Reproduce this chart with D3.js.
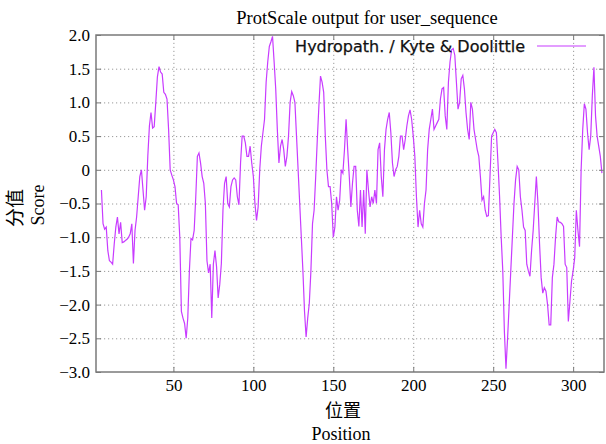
<!DOCTYPE html>
<html>
<head>
<meta charset="utf-8">
<script src="https://cdn.jsdelivr.net/npm/d3@7"></script>
<style>
  body { margin: 0; background: #fff; }
  svg { display: block; }
</style>
</head>
<body>
<div id="chart"></div>
<script>
// hydropathy scores, one per position starting at firstPos
var firstPos = 5;
var scores = [
  -0.3, -0.8, -0.88, -0.85, -1.2, -1.35, -1.37, -1.4, -1.1, -0.85,
  -0.7, -0.95, -0.78, -1.08, -1.07, -1.05, -1.03, -1.0, -0.95, -0.8,
  -1.39, -0.9, -0.7, -0.4, -0.1, 0.0, -0.3, -0.6, -0.4, 0.2,
  0.65, 0.85, 0.62, 0.64, 1.0, 1.38, 1.53, 1.45, 1.42,
  1.15, 1.12, 1.05, 0.6, 0.0, -0.08, -0.15, -0.25, -0.5, -0.52,
  -1.0, -2.1, -2.2, -2.28, -2.5, -2.2, -1.5, -1.02, -1.04, -0.9,
  -0.4, 0.2, 0.25, 0.1, -0.1, -0.2, -0.5, -1.35, -1.53, -1.4,
  -2.2, -1.4, -1.2, -1.44, -1.9, -1.7, -1.39, -0.6, -0.2, -0.1,
  -0.5, -0.55, -0.25, -0.15, -0.12, -0.15, -0.4, -0.52, 0.1, 0.5,
  0.5, 0.4, 0.2, 0.2, 0.35, 0.1, -0.1, -0.5, -0.75, -0.55,
  0.0, 0.35, 0.55, 0.75, 1.3, 1.6, 1.83, 1.9, 1.98, 1.6,
  1.2, 0.6, 0.1, 0.35, 0.45, 0.3, 0.05, 0.2, 0.5, 1.0,
  1.16, 1.1, 1.0, 0.5, 0.0, -0.5, -1.0, -1.5, -2.1, -2.48,
  -2.2, -1.98, -1.5, -0.8, -0.6, -0.1, 0.45, 0.95, 1.39, 1.3,
  1.15, 0.5, 0.0, -0.25, -0.25, -0.5, -1.0, -0.85, -0.4, -0.6,
  -0.45, 0.0, -0.05, 0.3, 0.75, 0.3, -0.1, -0.55, -0.2, 0.05,
  0.05, -0.6, -0.84, -0.3, -0.85, -0.3, -0.95, 0.0, -0.3, -0.55,
  -0.4, -0.5, -0.3, -0.5, 0.3, 0.4, -0.1, -0.4, 0.3, 0.6,
  0.75, 0.85, 0.55, 0.1, -0.1, 0.0, 0.05, 0.2, 0.5, 0.5,
  0.3, 0.45, 0.65, 0.8, 0.89, 0.75, 0.5, 0.2, -0.4, -0.85,
  -0.6, -0.8, -0.85, -0.5, -0.3, 0.3, 0.6, 0.75, 0.9, 0.6,
  0.65, 0.7, 0.75, 1.05, 1.2, 1.22, 0.8, 0.6, 1.3, 1.6,
  1.78, 1.8, 1.7, 1.3, 0.9, 1.0, 1.35, 1.4, 1.2, 0.85,
  0.6, 0.45, 1.0, 0.9, 0.6, 0.45, 0.3, 0.2, -0.1, -0.45,
  -0.4, -0.6, -0.69, -0.68, -0.1, 0.5, 0.55, 0.6, 0.55, 0.1,
  -0.4, -1.0, -1.5, -2.4, -2.95, -2.5, -2.0, -1.5, -1.0, -0.5,
  -0.15, 0.05, 0.0, -0.4, -0.6, -0.85, -0.9, -1.4, -1.5, -1.58,
  -1.2, -0.9, -0.5, -0.1, -0.5, -1.1, -1.6, -1.83, -1.75,
  -1.8, -2.0, -2.3, -2.3, -1.6, -1.4, -1.0, -0.7, -0.77, -0.78,
  -0.8, -0.84, -1.4, -1.45, -2.25, -1.95, -1.65, -1.5, -1.3, -0.6,
  -0.9, -1.14, 0.0, 0.6, 0.98, 0.9, 0.55, 0.3, 0.5, 1.1,
  1.52, 0.8, 0.5, 0.35, 0.2, -0.05
];

var xTicks = [50, 100, 150, 200, 250, 300];
var yTicks = [2.0, 1.5, 1.0, 0.5, 0, -0.5, -1.0, -1.5, -2.0, -2.5, -3.0];
var yTickLabels = ["2.0", "1.5", "1.0", "0.5", "0", "\u22120.5", "\u22121.0", "\u22121.5", "\u22122.0", "\u22122.5", "\u22123.0"];

var titleText = "ProtScale output for user_sequence";
var seriesName = "Hydropath. / Kyte & Doolittle";

var width = 606, height = 444;
var margins = {left: 96, right: 2, top: 35, bottom: 72};
var w = width - margins.left - margins.right;
var h = height - margins.top - margins.bottom;

var lineColor = "#c83cff";
var frameColor = "#7a7a7a";
var serif = "'Liberation Serif', 'DejaVu Serif', serif";

var svg = d3.select("#chart").append("svg")
    .attr("width", width)
    .attr("height", height);

var g = svg.append("g")
    .attr("transform", "translate(" + margins.left + "," + margins.top + ")");

var x = d3.scaleLinear().domain([1.6, 319.3]).range([0, w]);
var y = d3.scaleLinear().domain([-3, 2]).range([h, 0]);

// grid
g.append("g")
    .attr("class", "grid")
    .call(d3.axisLeft(y).tickValues(yTicks.slice(1, -1)).tickSize(-w).tickFormat(""))
    .call(function (s) {
        s.select(".domain").remove();
        s.selectAll("line").attr("stroke", "#9a9a9a").attr("stroke-dasharray", "1.2,2.8");
    });
g.append("g")
    .attr("class", "grid")
    .attr("transform", "translate(0," + h + ")")
    .call(d3.axisBottom(x).tickValues(xTicks).tickSize(-h).tickFormat(""))
    .call(function (s) {
        s.select(".domain").remove();
        s.selectAll("line").attr("stroke", "#9a9a9a").attr("stroke-dasharray", "1.2,2.8");
    });

// data line
var line = d3.line()
    .x(function (d, i) { return x(firstPos + i); })
    .y(function (d) { return y(d); });

g.append("path")
    .datum(scores)
    .attr("fill", "none")
    .attr("stroke", lineColor)
    .attr("stroke-width", 1.2)
    .attr("d", line);

// axes with inward ticks (mirrored)
function styleAxis(s) {
    s.select(".domain").remove();
    s.selectAll("line").attr("stroke", frameColor).attr("stroke-width", 1);
    s.selectAll("text")
        .attr("fill", "#000")
        .style("font-family", serif)
        .style("font-size", "17px");
}

g.append("g")
    .call(d3.axisLeft(y).tickValues(yTicks).tickSize(-5).tickPadding(6)
        .tickFormat(function (d, i) { return yTickLabels[i]; }))
    .call(styleAxis);
g.append("g")
    .attr("transform", "translate(" + w + ",0)")
    .call(d3.axisRight(y).tickValues(yTicks).tickSize(-5).tickFormat(""))
    .call(styleAxis);
g.append("g")
    .attr("transform", "translate(0," + h + ")")
    .call(d3.axisBottom(x).tickValues(xTicks).tickSize(-5).tickPadding(7))
    .call(styleAxis);
g.append("g")
    .call(d3.axisTop(x).tickValues(xTicks).tickSize(-5).tickFormat(""))
    .call(styleAxis);

// frame
g.append("rect")
    .attr("x", 0).attr("y", 0)
    .attr("width", w).attr("height", h)
    .attr("fill", "none")
    .attr("stroke", frameColor)
    .attr("stroke-width", 1.5);

// legend
svg.append("text")
    .attr("x", 525).attr("y", 52)
    .attr("text-anchor", "end")
    .style("font-family", "'DejaVu Sans', sans-serif")
    .style("font-size", "16px")
    .attr("fill", "#111")
    .attr("stroke", "#111")
    .attr("stroke-width", 0.25)
    .text(seriesName);
svg.append("line")
    .attr("x1", 537).attr("x2", 586)
    .attr("y1", 46).attr("y2", 46)
    .attr("stroke", lineColor)
    .attr("stroke-width", 1.2);

// title
svg.append("text")
    .attr("x", 367).attr("y", 24)
    .attr("text-anchor", "middle")
    .style("font-family", serif)
    .style("font-size", "18.5px")
    .text(titleText);

// x axis labels
svg.append("text")
    .attr("x", 343).attr("y", 417)
    .attr("text-anchor", "middle")
    .style("font-family", "'Noto Sans CJK SC', sans-serif")
    .style("font-size", "18px")
    .text("位置");
svg.append("text")
    .attr("x", 341).attr("y", 440)
    .attr("text-anchor", "middle")
    .style("font-family", serif)
    .style("font-size", "18px")
    .text("Position");

// y axis labels
svg.append("text")
    .attr("transform", "translate(22,208) rotate(-90)")
    .attr("text-anchor", "middle")
    .style("font-family", "'Noto Sans CJK SC', sans-serif")
    .style("font-size", "19px")
    .text("分值");
svg.append("text")
    .attr("transform", "translate(44,205) rotate(-90)")
    .attr("text-anchor", "middle")
    .style("font-family", serif)
    .style("font-size", "18px")
    .text("Score");
</script>
</body>
</html>
